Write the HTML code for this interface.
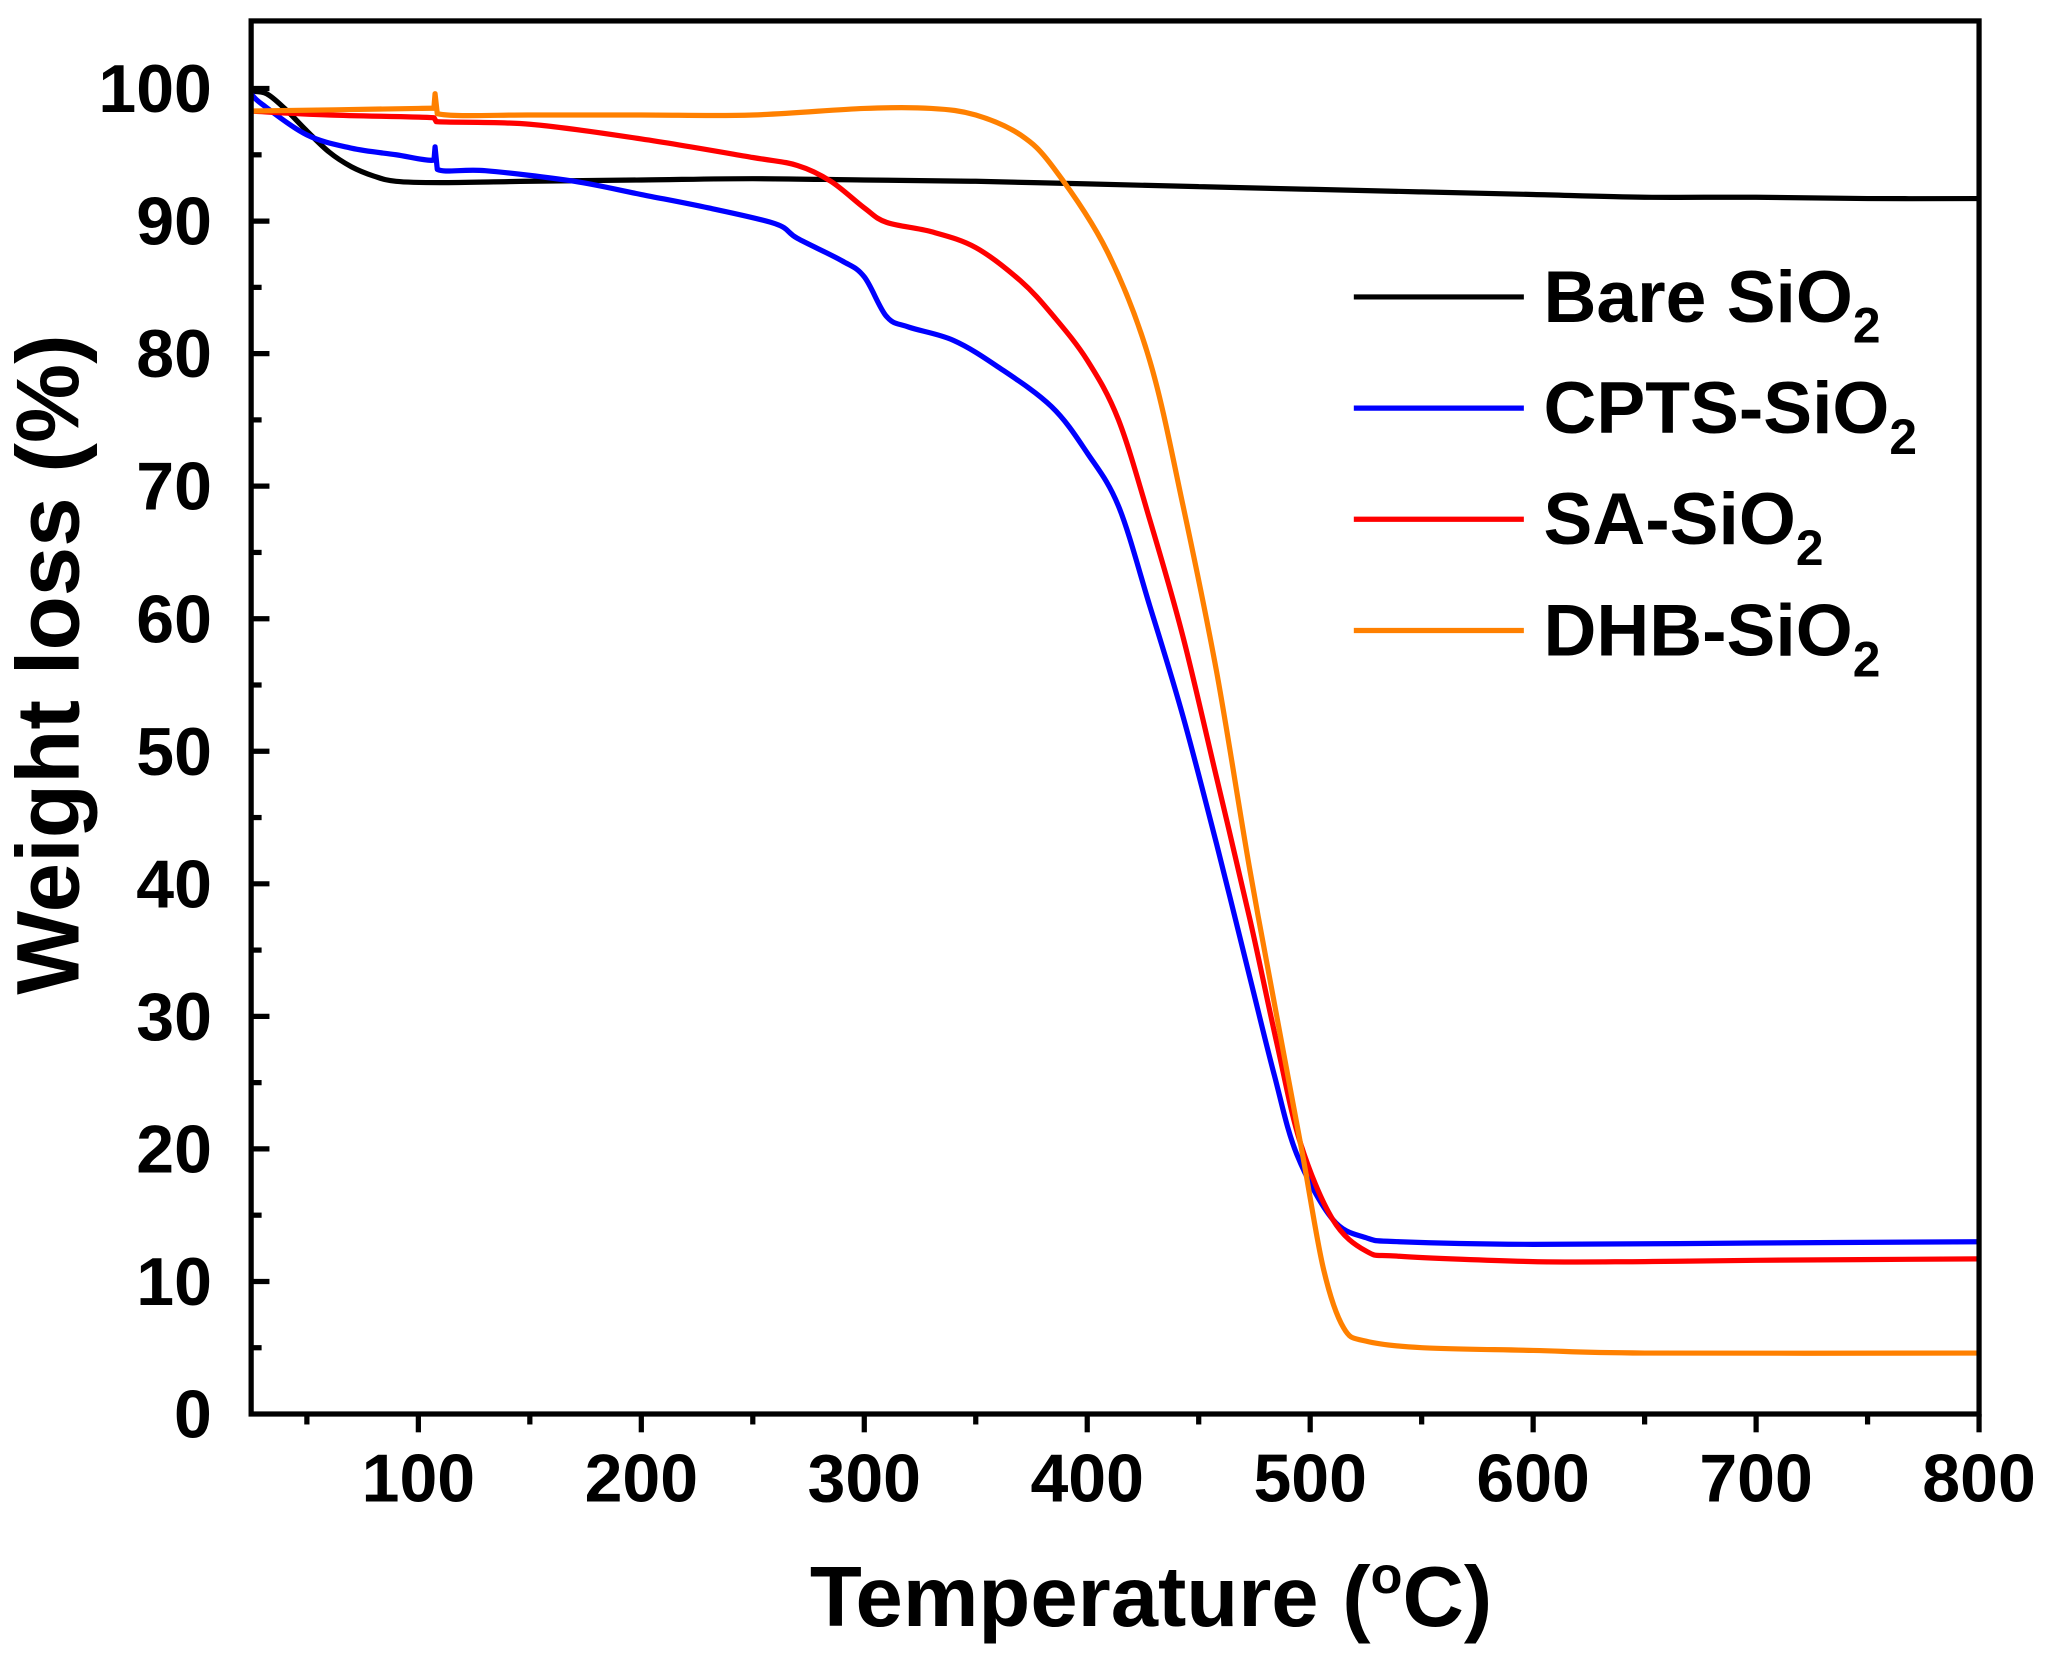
<!DOCTYPE html>
<html><head><meta charset="utf-8"><style>
html,body{margin:0;padding:0;background:#fff;}
svg{display:block;font-family:"Liberation Sans",Arial,sans-serif;font-weight:bold;}
</style></head><body>
<svg id="chart" width="2051" height="1656" viewBox="0 0 1568 1266" preserveAspectRatio="none" xmlns="http://www.w3.org/2000/svg">
<g id="plot"></g>
</svg>
<script>
const xTicks=[100,200,300,400,500,600,700,800];
const yTicks=[0,10,20,30,40,50,60,70,80,90,100];
const bareT=[25,32,40,50,60,70,80,90,110,150,200,250,300,350,400,450,500,550,600,650,700,750,800];
const bareW=[99.8,99.6,98.5,96.8,95.2,94.1,93.4,93.0,92.9,93,93.1,93.2,93.1,93,92.8,92.6,92.4,92.2,92.0,91.8,91.8,91.7,91.7];
const cptsT=[25,30,50,70,90,107,107.5,108.5,130,170,200,230,260,270,290,300,310,320,340,360,384,400,414,428,443,458,473,484,494,510,525,540,600,700,800];
const cptsW=[99.6,98.8,96.5,95.5,95,94.6,95.6,93.9,93.8,93,92,91,89.8,88.7,87,85.8,82.8,82,81,79,76,72.5,68.5,61,52.6,43,32.9,25.5,19.6,14.7,13.3,13,12.8,12.9,13];
const saT=[25,60,107,108,150,200,250,270,285,300,310,330,350,370,384,400,414,428,443,458,473,485,495.5,510,525,540,600,650,700,800];
const saW=[98.3,98,97.8,97.5,97.3,96.2,94.8,94.2,93,91,89.9,89.2,88,85.5,83,79.5,75,67.5,58.6,48,37.3,28,20.5,14.7,12.3,11.9,11.5,11.5,11.6,11.7];
const dhbT=[25,100,107,107.5,108.5,150,200,250,300,330,350,370,385,409,428,443,458,473,488,497,506,515,525,550,600,650,800];
const dhbW=[98.3,98.5,98.6,99.6,98.1,98,98,98,98.5,98.5,98,96.5,94,87.7,79.5,68.5,56,41,27.3,19.2,10.9,6.5,5.5,5,4.8,4.6,4.6];
const seriesNames=["Bare SiO","CPTS-SiO","SA-SiO","DHB-SiO"];
const seriesColors=["#000000","#0000ff","#ff0000","#ff8000"];
const seriesT=[bareT,cptsT,saT,dhbT];
const seriesW=[bareW,cptsW,saW,dhbW];

const L=192,R=1513,T=16,B=1081,xmin=25,xmax=800,ymin=0,ymax=105.1;
const sx=v=>L+(v-xmin)/(xmax-xmin)*(R-L);
const sy=v=>B-(v-ymin)/(ymax-ymin)*(B-T);
const NS="http://www.w3.org/2000/svg";
const g=document.getElementById('plot');
function mk(tag,attrs){const e=document.createElementNS(NS,tag);for(const k in attrs)e.setAttribute(k,attrs[k]);g.appendChild(e);return e;}
function smooth(pts){
  let d='M'+pts[0][0].toFixed(1)+','+pts[0][1].toFixed(1);
  for(let i=0;i<pts.length-1;i++){
    const p0=pts[Math.max(0,i-1)],p1=pts[i],p2=pts[i+1],p3=pts[Math.min(pts.length-1,i+2)];
    if(p2[0]-p1[0]<3){d+='L'+p2[0].toFixed(1)+','+p2[1].toFixed(1);continue;}
    const c1=[p1[0]+(p2[0]-p0[0])/6,p1[1]+(p2[1]-p0[1])/6];
    const c2=[p2[0]-(p3[0]-p1[0])/6,p2[1]-(p3[1]-p1[1])/6];
    d+='C'+c1.map(v=>v.toFixed(1)).join(',')+' '+c2.map(v=>v.toFixed(1)).join(',')+' '+p2[0].toFixed(1)+','+p2[1].toFixed(1);
  }
  return d;
}
for(let s=0;s<4;s++){
  const pts=seriesT[s].map((t,i)=>[sx(t),sy(seriesW[s][i])]);
  const p=mk('path',{d:smooth(pts),fill:'none',stroke:seriesColors[s],'stroke-width':4,'stroke-linejoin':'round'});
  
  
}
const fr=mk('rect',{x:L,y:T,width:R-L,height:B-T,fill:'none',stroke:'#000','stroke-width':4});


for(let v=50;v<=800;v+=50){
  const major=v%100===0;
  const t=mk('line',{x1:sx(v),x2:sx(v),y1:B,y2:B+(major?14:8),stroke:'#000','stroke-width':4});
  
  
}
xTicks.forEach(v=>{
  const t=mk('text',{x:sx(v),y:1148,'text-anchor':'middle','font-size':52});
  t.textContent=v;
  
  
});
for(let v=5;v<=100;v+=5){
  const major=v%10===0;
  const t=mk('line',{x1:L,x2:L+(major?14:8),y1:sy(v),y2:sy(v),stroke:'#000','stroke-width':4});
  
  
}
yTicks.forEach(v=>{
  const t=mk('text',{x:162,y:sy(v)+18,'text-anchor':'end','font-size':52});
  t.textContent=v;
  
  
});
const xt=mk('text',{x:880,y:1243,'text-anchor':'middle','font-size':65});
xt.innerHTML='Temperature (<tspan font-size="40" dy="-25">o</tspan><tspan dy="25">C)</tspan>';


const yt=mk('text',{x:0,y:0,'text-anchor':'middle','font-size':68,transform:'translate(60,508) rotate(-90)'});
yt.textContent='Weight loss (%)';


for(let s=0;s<4;s++){
  const y=227+85*s;
  const ln=mk('line',{x1:1035,x2:1165,y1:y,y2:y,stroke:seriesColors[s],'stroke-width':4});
  
  
  const tx=mk('text',{x:1180,y:y+19,'font-size':56});
  tx.innerHTML=seriesNames[s]+'<tspan font-size="38" dy="16">2</tspan>';
  
  
}
</script>
</body></html>
